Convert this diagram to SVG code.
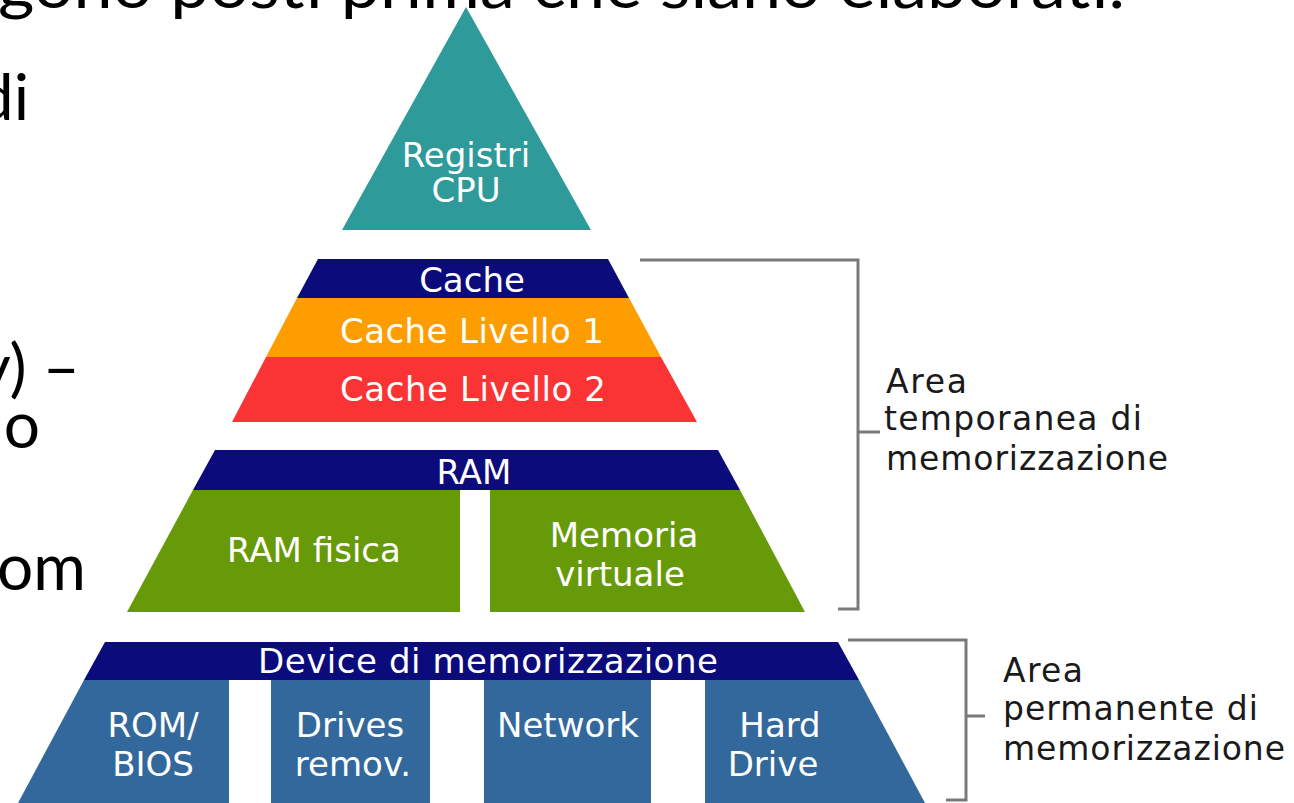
<svg xmlns="http://www.w3.org/2000/svg" width="1294" height="803" viewBox="0 0 1294 803">
<style>
.bg{font-family:Lato,"Noto Sans",sans-serif;font-size:64px;fill:#000}
.w{font-family:"DejaVu Sans",Verdana,sans-serif;font-size:34px;fill:#ffffff;text-anchor:middle}
.k{font-family:"DejaVu Sans",Verdana,sans-serif;font-size:33px;fill:#1a1a1a}
.navy{fill:#0b0b7c}
.blue{fill:#33689c}
.green{fill:#679a08}
.br{fill:none;stroke:#7a7a7a;stroke-width:3}
</style>
<rect width="1294" height="803" fill="#ffffff"/>
<g id="slide-text">
<text class="bg" x="-2" y="8" textLength="1127" lengthAdjust="spacingAndGlyphs">gono posti prima che siano elaborati.</text>
<text class="bg" x="29" y="120" text-anchor="end">di</text>
<text class="bg" x="80" y="390" text-anchor="end">y) –</text>
<text class="bg" x="40" y="448" text-anchor="end">io</text>
<text class="bg" x="86" y="590" text-anchor="end">rom</text>
</g>
<g id="registri">
<polygon points="466,7 342,230 591,230" fill="#2e9a99"/>
<text class="w" x="466" y="167">Registri</text>
<text class="w" x="466" y="202">CPU</text>
</g>
<g id="cache">
<polygon class="navy" points="318,259 608,259 629,298 297,298"/>
<text class="w" x="472" y="292">Cache</text>
</g>
<g id="cache-l1">
<polygon points="297,298 629,298 661,357 266,357" fill="#fd9d00"/>
<text class="w" x="472" y="343" textLength="264">Cache Livello 1</text>
</g>
<g id="cache-l2">
<polygon points="266,357 661,357 697,422 232,422" fill="#fa3434"/>
<text class="w" x="473" y="401" textLength="266">Cache Livello 2</text>
</g>
<g id="ram">
<polygon class="navy" points="215,450 718,450 740,490 193,490"/>
<text class="w" x="474" y="484">RAM</text>
</g>
<g id="ram-fisica">
<polygon class="green" points="193,490 460,490 460,612 127,612"/>
<text class="w" x="314" y="562">RAM fisica</text>
</g>
<g id="memoria-virtuale">
<polygon class="green" points="490,490 740,490 805,612 490,612"/>
<text class="w" x="624" y="547">Memoria</text>
<text class="w" x="620" y="586">virtuale</text>
</g>
<g id="device">
<polygon class="navy" points="105,642 838,642 859,680 84,680"/>
<text class="w" x="488" y="673" textLength="460">Device di memorizzazione</text>
</g>
<g id="rom-bios">
<polygon class="blue" points="84,680 229,680 229,803 18,803"/>
<text class="w" x="153" y="737">ROM/</text>
<text class="w" x="153" y="776">BIOS</text>
</g>
<g id="drives">
<rect class="blue" x="271" y="680" width="159" height="123"/>
<text class="w" x="350" y="737">Drives</text>
<text class="w" x="353" y="776">remov.</text>
</g>
<g id="network">
<rect class="blue" x="484" y="680" width="167" height="123"/>
<text class="w" x="568" y="737">Network</text>
</g>
<g id="hard-drive">
<polygon class="blue" points="705,680 859,680 925,803 705,803"/>
<text class="w" x="780" y="737">Hard</text>
<text class="w" x="773" y="776">Drive</text>
</g>
<g id="connectors">
<path class="br" d="M640,260 H858 V609 H838 M858,432 H880"/>
<path class="br" d="M848,640 H966 V800 H946 M966,716 H985"/>
</g>
<g id="area-temporanea">
<text class="k" x="886" y="393" textLength="81">Area</text>
<text class="k" x="884" y="430" textLength="258">temporanea di</text>
<text class="k" x="886" y="470" textLength="282">memorizzazione</text>
</g>
<g id="area-permanente">
<text class="k" x="1003" y="682" textLength="80">Area</text>
<text class="k" x="1003" y="720" textLength="255">permanente di</text>
<text class="k" x="1003" y="760" textLength="282">memorizzazione</text>
</g>
</svg>
